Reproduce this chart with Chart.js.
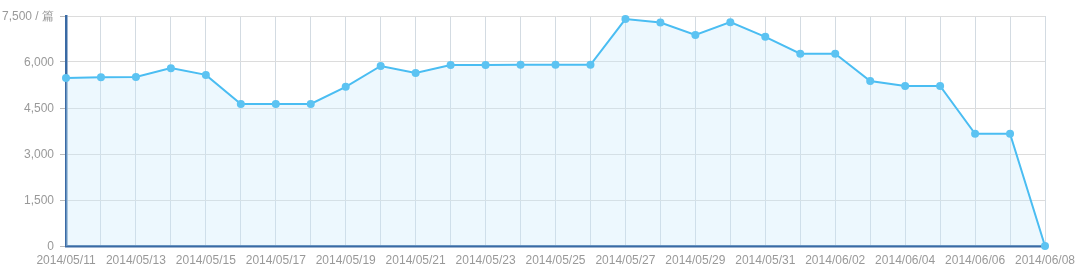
<!DOCTYPE html>
<html>
<head>
<meta charset="utf-8">
<script src="https://cdn.jsdelivr.net/npm/chart.js@4.4.0/dist/chart.umd.min.js"></script>
<style>
  html, body { margin: 0; padding: 0; background: #fff; }
  #wrap { width: 1087px; height: 268px; }
</style>
</head>
<body>
<div id="wrap"><canvas id="grafico"></canvas></div>
<script>
// fechas (eje x)
var fechas = [
  '2014/05/11', '2014/05/12', '2014/05/13', '2014/05/14', '2014/05/15', '2014/05/16', '2014/05/17',
  '2014/05/18', '2014/05/19', '2014/05/20', '2014/05/21', '2014/05/22', '2014/05/23', '2014/05/24',
  '2014/05/25', '2014/05/26', '2014/05/27', '2014/05/28', '2014/05/29', '2014/05/30', '2014/05/31',
  '2014/06/01', '2014/06/02', '2014/06/03', '2014/06/04', '2014/06/05', '2014/06/06', '2014/06/07',
  '2014/06/08'
];
// valores (篇)
var valores = [
  5480, 5500, 5510, 5800, 5580, 4630, 4630,
  4630, 5190, 5870, 5640, 5900, 5900, 5910,
  5910, 5910, 7400, 7290, 6880, 7300, 6820,
  6270, 6270, 5380, 5220, 5220, 3660, 3660,
  0
];
var ticksY = [0, 1500, 3000, 4500, 6000, 7500];
var unidad = '篇';

var azul = '#4abdf2';
var eje = '#3a6aa4';
var fuente = { family: 'Liberation Sans, Arial, sans-serif', size: 12 };

var ctx = document.getElementById('grafico').getContext('2d');
new Chart(ctx, {
  type: 'line',
  data: {
    labels: fechas,
    datasets: [{
      data: valores,
      clip: false,
      borderColor: azul,
      borderWidth: 2,
      backgroundColor: 'rgba(200, 232, 252, 0.32)',
      fill: true,
      tension: 0,
      pointRadius: 4,
      pointBackgroundColor: '#5cc3f2',
      pointBorderColor: '#5cc3f2',
      pointBorderWidth: 0
    }]
  },
  options: {
    responsive: true,
    maintainAspectRatio: false,
    animation: false,
    layout: { padding: { left: 0, right: 42, top: 16, bottom: 0 } },
    plugins: {
      legend: { display: false },
      tooltip: { enabled: false }
    },
    scales: {
      x: {
        offset: false,
        grid: {
          drawTicks: false,
          color: function (c) { return c.index === 0 ? 'rgba(0,0,0,0)' : '#d3dbe2'; }
        },
        border: { color: eje, width: 2.5 },
        ticks: {
          autoSkip: false,
          maxRotation: 0,
          padding: 7,
          color: '#999',
          font: fuente,
          callback: function (v, i) { return i % 2 === 0 ? fechas[i] : ''; }
        },
        afterFit: function (s) { s.height = 22; }
      },
      y: {
        min: 0,
        max: 7500,
        afterBuildTicks: function (s) { s.ticks = ticksY.map(function (v) { return { value: v }; }); },
        grid: {
          tickLength: 6,
          tickColor: '#bbb',
          color: function (c) { return c.tick && c.tick.value === 0 ? 'rgba(0,0,0,0)' : '#dcdcdc'; }
        },
        border: { color: eje, width: 2.5 },
        ticks: {
          padding: 6,
          labelOffset: 1,
          color: '#999',
          font: fuente,
          callback: function (v) {
            var t = v.toLocaleString('en-US');
            return v === 7500 ? t + ' / ' + unidad : t;
          }
        },
        afterFit: function (s) { s.width = 66; }
      }
    }
  }
});
</script>
</body>
</html>
